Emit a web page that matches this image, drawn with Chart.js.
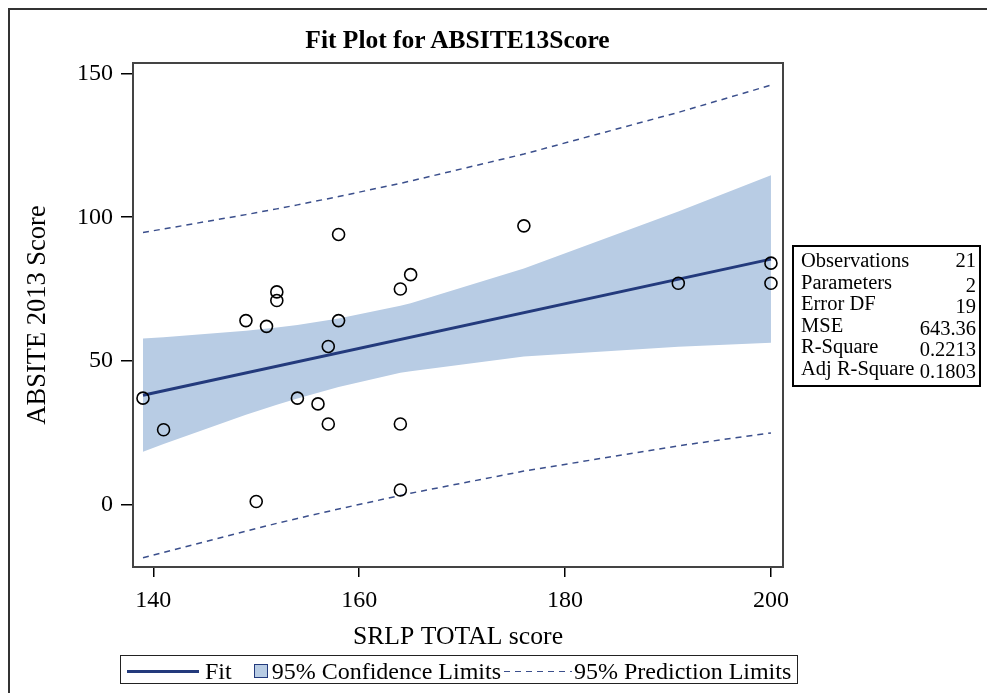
<!DOCTYPE html>
<html>
<head>
<meta charset="utf-8">
<script src="https://cdn.jsdelivr.net/npm/chart.js@4.4.1/dist/chart.umd.min.js"></script>
<style>
  body { margin: 0; background: #fff; }
  #wrap { position: relative; width: 987px; height: 693px; overflow: hidden; font-family: "Liberation Serif", "Times New Roman", serif; }
  #frame { position: absolute; left: 8px; top: 8px; width: 1200px; height: 900px; border-top: 2px solid #333; border-left: 2px solid #333; }
  #plot { position: absolute; left: 0; top: 0; }
  #title { position: absolute; left: 132px; width: 651px; top: 26px; line-height: 28px; text-align: center; font-size: 25.5px; font-weight: bold; }
  #stats { position: absolute; left: 792px; top: 245px; width: 185px; height: 135px; border: 2px solid #000; font-size: 20.5px; line-height: 21.6px; padding-top: 3px; box-sizing: content-box; }
  #stats div { display: flex; justify-content: space-between; padding: 0 3px 0 7px; }
  #stats div span + span { position: relative; }
  #legend { position: absolute; left: 120px; top: 655px; width: 676px; height: 27px; border: 1.5px solid #222; font-size: 24px; line-height: 27px; white-space: nowrap; }
  #legend span { display: inline-block; vertical-align: middle; }
  .lfit { width: 72px; height: 3px; background: #233a7c; margin: 0 6px 0 6px; }
  .lcl { width: 12px; height: 12px; background: #b8cce4; border: 1px solid #233a7c; margin: 0 4px 0 22px; }
  .lpl { width: 68px; height: 1.5px; background: repeating-linear-gradient(to right, #3b4f8c 0 6px, transparent 6px 11px); margin: 0 2px 0 3px; }
</style>
</head>
<body>
<div id="wrap">
  <div id="frame"></div>
  <canvas id="plot" width="987" height="693"></canvas>
  <div id="title">Fit Plot for ABSITE13Score</div>
  <div id="stats"></div>
  <div id="legend">
    <span class="lfit"></span><span>Fit</span><span class="lcl"></span><span>95% Confidence Limits</span><span class="lpl"></span><span>95% Prediction Limits</span>
  </div>
</div>
<script>
// observations
const srlpScore = [139, 141, 149, 150, 151, 152, 152, 154, 156, 157, 157, 158, 158, 164, 164, 164, 165, 176, 191, 200, 200];
const absiteScore = [37, 26, 64, 1, 62, 74, 71, 37, 35, 28, 55, 94, 64, 75, 28, 5, 80, 97, 77, 84, 77];

// fit line ends
const fitX = [139, 200];
const fitY = [38.0, 85.4];

// limits read at the distinct x values
const bandX = [139, 141, 149, 152, 154, 158, 164, 165, 176, 191, 200];
const clLower = [18.3, 21.0, 31.2, 34.7, 36.9, 40.9, 45.8, 46.4, 51.5, 54.9, 56.3];
const clUpper = [57.8, 58.2, 60.5, 61.6, 62.5, 64.7, 69.2, 70.0, 82.1, 102.0, 114.6];
const plLower = [-18.6, -16.7, -9.3, -6.6, -4.9, -1.6, 3.1, 3.9, 11.6, 20.4, 24.9];
const plUpper = [94.7, 95.9, 100.9, 102.9, 104.3, 107.2, 111.8, 112.6, 122.0, 136.5, 146.0];

const xTicks = [140, 160, 180, 200];
const yTicks = [0, 50, 100, 150];

const statLabels = ["Observations", "Parameters", "Error DF", "MSE", "R-Square", "Adj R-Square"];
const statValues = ["21", "2", "19", "643.36", "0.2213", "0.1803"];

const statsBox = document.getElementById("stats");
statLabels.forEach((label, i) => {
  const row = document.createElement("div");
  row.innerHTML = "<span>" + label + "</span><span style='top:" + (i === 0 ? 0 : 3) + "px'>" + statValues[i] + "</span>";
  statsBox.appendChild(row);
});

const pts = (xs, ys) => xs.map((x, i) => ({ x: x, y: ys[i] }));
const serif = '"Liberation Serif", "Times New Roman", serif';

const frameBox = {
  id: "frameBox",
  afterDraw(chart) {
    const { ctx, chartArea: a } = chart;
    ctx.save();
    ctx.strokeStyle = "#444";
    ctx.lineWidth = 2;
    ctx.strokeRect(a.left, a.top, a.right - a.left, a.bottom - a.top);
    ctx.restore();
  },
};

const ctx = document.getElementById("plot");
const fitChart = new Chart(ctx, {
  type: "scatter",
  data: {
    datasets: [
      {
        label: "ABSITE13Score",
        data: pts(srlpScore, absiteScore),
        pointStyle: "circle",
        pointRadius: 6,
        pointBorderWidth: 1.6,
        pointBorderColor: "#000",
        pointBackgroundColor: "rgba(0,0,0,0)",
      },
      {
        label: "Fit",
        type: "line",
        data: pts(fitX, fitY),
        borderColor: "#233a7c",
        borderWidth: 3,
        pointRadius: 0,
        fill: false,
      },
      {
        label: "Upper PL",
        type: "line",
        data: pts(bandX, plUpper),
        borderColor: "#3b4f8c",
        borderWidth: 1.5,
        borderDash: [6, 5],
        pointRadius: 0,
        fill: false,
      },
      {
        label: "Lower PL",
        type: "line",
        data: pts(bandX, plLower),
        borderColor: "#3b4f8c",
        borderWidth: 1.5,
        borderDash: [6, 5],
        pointRadius: 0,
        fill: false,
      },
      {
        label: "Lower CL",
        type: "line",
        data: pts(bandX, clLower),
        borderWidth: 0,
        borderColor: "rgba(0,0,0,0)",
        pointRadius: 0,
        fill: false,
      },
      {
        label: "Upper CL",
        type: "line",
        data: pts(bandX, clUpper),
        borderWidth: 0,
        borderColor: "rgba(0,0,0,0)",
        backgroundColor: "#b8cce4",
        pointRadius: 0,
        fill: 4,
      },
    ],
  },
  options: {
    responsive: false,
    animation: false,
    layout: { padding: { left: 20, right: 204, top: 63, bottom: 40 } },
    plugins: {
      legend: { display: false },
      tooltip: { enabled: false },
    },
    scales: {
      x: {
        type: "linear",
        min: 138.03,
        max: 201.17,
        afterBuildTicks: (scale) => { scale.ticks = xTicks.map((v) => ({ value: v })); },
        afterFit: (scale) => { scale.height = 86; },
        grid: { drawOnChartArea: false, drawTicks: true, tickLength: 10, color: "#000", lineWidth: 1.5 },
        border: { display: true, color: "#444", width: 2 },
        ticks: { color: "#000", font: { family: serif, size: 24 }, padding: 9, maxRotation: 0 },
        title: { display: true, text: "SRLP TOTAL score", color: "#000", font: { family: serif, size: 25.7 }, padding: 0 },
      },
      y: {
        type: "linear",
        min: -21.8,
        max: 153.7,
        afterBuildTicks: (scale) => { scale.ticks = yTicks.map((v) => ({ value: v })); },
        afterFit: (scale) => { scale.width = 113; },
        grid: { drawOnChartArea: false, drawTicks: true, tickLength: 12, color: "#000", lineWidth: 1.5 },
        border: { display: true, color: "#444", width: 2 },
        ticks: { color: "#000", font: { family: serif, size: 24 }, padding: 8 },
        title: { display: true, text: "ABSITE 2013 Score", color: "#000", font: { family: serif, size: 26.5 }, padding: { top: 2, bottom: 0 } },
      },
    },
  },
  plugins: [frameBox],
});
</script>
</body>
</html>
